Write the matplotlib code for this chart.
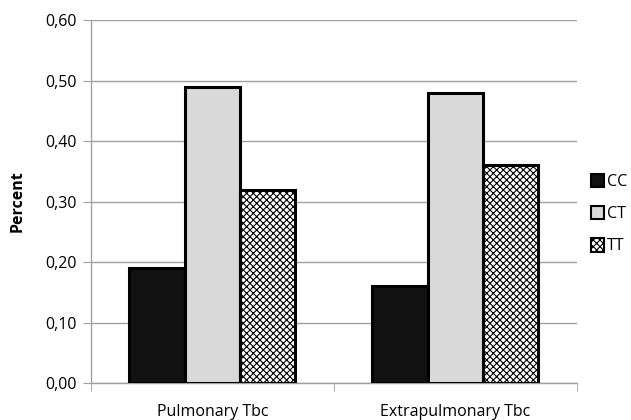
import numpy as np
import matplotlib.pyplot as plt
import matplotlib as mpl

plt.rcParams['font.family'] = ['Open Sans', 'DejaVu Sans']
mpl.rcParams['hatch.color'] = '#555555'
mpl.rcParams['hatch.linewidth'] = 0.8

categories = ['Pulmonary Tbc', 'Extrapulmonary Tbc']
genotypes = ['CC', 'CT', 'TT']
cc = [0.19, 0.16]
ct = [0.49, 0.48]
tt = [0.32, 0.36]
yticks = [0.0, 0.1, 0.2, 0.3, 0.4, 0.5, 0.6]

fig = plt.figure(figsize=(6.31, 4.20), dpi=100)
ax = fig.add_axes([0.144, 0.088, 0.77, 0.864])

x = np.arange(len(categories))
w = 0.228
styles = [dict(color='#111111'), dict(color='#d9d9d9'), dict(color='white', hatch='xxxxx')]
for i, (vals, st) in enumerate(zip([cc, ct, tt], styles)):
    ax.bar(x + (i - 1) * w, vals, w, edgecolor='black', linewidth=2.2,
           label=genotypes[i], zorder=3, **st)

fs = 11.5
ax.set_xlim(-0.5, 1.5)
ax.set_ylim(0, 0.6)
ax.set_yticks(yticks)
ax.set_yticklabels([f'{v:.2f}'.replace('.', ',') for v in yticks], fontsize=fs)
ax.set_xticks(x)
ax.set_xticklabels(categories, fontsize=fs)
ax.set_xticks([-0.5, 0.5, 1.5], minor=True)
ax.tick_params(axis='x', which='major', length=0, pad=15)
ax.tick_params(axis='x', which='minor', length=6, color='#a0a0a0')
ax.tick_params(axis='y', length=6, color='#a0a0a0', pad=4)
ax.grid(axis='y', color='#a0a0a0', linewidth=1, zorder=0)
ax.set_ylabel('Percent', fontsize=fs, fontweight='bold', labelpad=14)
for s in ['top', 'right']:
    ax.spines[s].set_visible(False)
for s in ['left', 'bottom']:
    ax.spines[s].set_color('#a0a0a0')
    ax.spines[s].set_linewidth(1)

leg = ax.legend(loc='center left', bbox_to_anchor=(1.0, 0.465), frameon=False,
                fontsize=fs, handlelength=0.8, handleheight=0.9,
                handletextpad=0.2, labelspacing=1.0, borderaxespad=0.5)
for h in leg.legend_handles:
    h.set_linewidth(1.5)

fig.savefig('out.png', dpi=100)
